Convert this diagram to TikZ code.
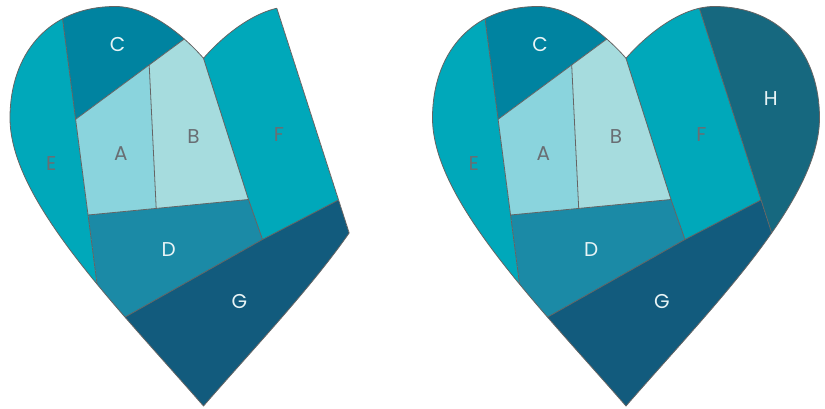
\documentclass[tikz,border=0pt]{standalone}
\usepackage{fontspec}
\setmainfont{Poppins}
\definecolor{cE}{RGB}{0,168,186}
\definecolor{cC}{RGB}{0,131,160}
\definecolor{cA}{RGB}{138,212,221}
\definecolor{cB}{RGB}{166,220,222}
\definecolor{cD}{RGB}{27,138,166}
\definecolor{cG}{RGB}{18,91,125}
\definecolor{cH}{RGB}{22,104,127}
\definecolor{edgegray}{RGB}{100,100,100}
\definecolor{lgray}{RGB}{105,110,115}
\definecolor{lwhite}{RGB}{232,244,246}
\newcommand\heartregions{%
  \fill[cE] (-300,-30) -- (-147.3,-30) -- (-88.8,420) -- (-300,420) -- cycle;
  \fill[cC] (-147.3,-30) -- (-127.9,119.3) -- (-18.3,38.3) -- (-5,28.5) -- (-5,-30) -- cycle;
  \fill[cA] (-127.9,119.3) -- (-54.3,65) -- (-47.3,208.5) -- (-115.4,215) -- cycle;
  \fill[cB] (-54.3,65) -- (-18.3,38.3) -- (-5,28.5) -- (0,28.5) -- (0,58.3) -- (45,199.5) -- (-47.3,208.5) -- cycle;
  \fill[cE] (0,-30) -- (0,58.3) -- (45,199.5) -- (59,239.5) -- (135,200) -- (61,-30) -- cycle;
  \fill[cD] (-115.4,215) -- (-47.3,208.5) -- (45,199.5) -- (59,239.5) -- (-77.7,316.7) -- (-100.5,329.5) -- cycle;
  \fill[cG] (-160,363.2) -- (-77.7,316.7) -- (59,239.5) -- (135,200) -- (205.9,420) -- (-160,420) -- cycle;
}
\newcommand\heartlines{%
  \draw[ln] (-147.3,-30) -- (-88.8,420);
  \draw[ln] (-127.9,119.3) -- (-5,28.5);
  \draw[ln] (-54.3,65) -- (-47.3,208.5);
  \draw[ln] (-115.4,215) -- (45,199.5);
  \draw[ln] (0,58.3) -- (45,199.5) -- (59,239.5);
  \draw[ln] (-100.5,329.5) -- (-77.7,316.7) -- (59,239.5) -- (135,200);
}
\newcommand\heartlabels[1]{%
  \node[lblg] (#1A) at (-82.6,153.3) {A};
  \node[lblg] (#1B) at (-10.1,136.7) {B};
  \node[lblw] (#1C) at (-85.9,45) {C};
  \node[lblw] (#1D) at (-34.8,250) {D};
  \node[lblg] (#1E) at (-152.3,163.3) {E};
  \node[lblg] (#1F) at (75.5,135) {F};
  \node[lblw] (#1G) at (36,301.7) {G};
}
\begin{document}
\begin{tikzpicture}[x=1pt,y=-1pt,
  heart/.style={insert path={(0,406) .. controls (-87,306) and (-193.5,200) .. (-193.5,118)
     .. controls (-193.5,55) and (-156,6.5) .. (-88,6.5)
     .. controls (-51,6.5) and (-14,42) .. (0,58.3)
     .. controls (14,42) and (51,6.5) .. (88,6.5)
     .. controls (156,6.5) and (193.5,55) .. (193.5,118)
     .. controls (193.5,200) and (87,306) .. (0,406) -- cycle}},
  ln/.style={draw=edgegray,line width=0.8pt,line join=round},
  lbl/.style={font=\fontsize{20}{20}\selectfont,inner sep=0pt},
  lblg/.style={lbl,text=lgray},
  lblw/.style={lbl,text=lwhite}]
\useasboundingbox (0,0) rectangle (825,409);
% left heart (without H)
\begin{scope}[shift={(203.5,0)}]
  \begin{scope}
    \clip (-300,-30) -- (61,-30) -- (205.9,420) -- (-300,420) -- cycle;
    \begin{scope}
      \clip[heart];
      \heartregions
      \heartlines
    \end{scope}
    \draw[ln,heart];
  \end{scope}
  \begin{scope}
    \clip[heart];
    \draw[ln] (61,-30) -- (205.9,420);
  \end{scope}
  \heartlabels{l}
\end{scope}
% right heart (with H)
\begin{scope}[shift={(626,0)}]
  \begin{scope}
    \clip[heart];
    \heartregions
    \fill[cH] (61,-30) -- (205.9,420) -- (260,420) -- (260,-30) -- cycle;
    \heartlines
    \draw[ln] (61,-30) -- (205.9,420);
  \end{scope}
  \draw[ln,heart];
  \heartlabels{r}
  \node[lblw] (rH) at (144.7,98.3) {H};
\end{scope}
\end{tikzpicture}
\end{document}
